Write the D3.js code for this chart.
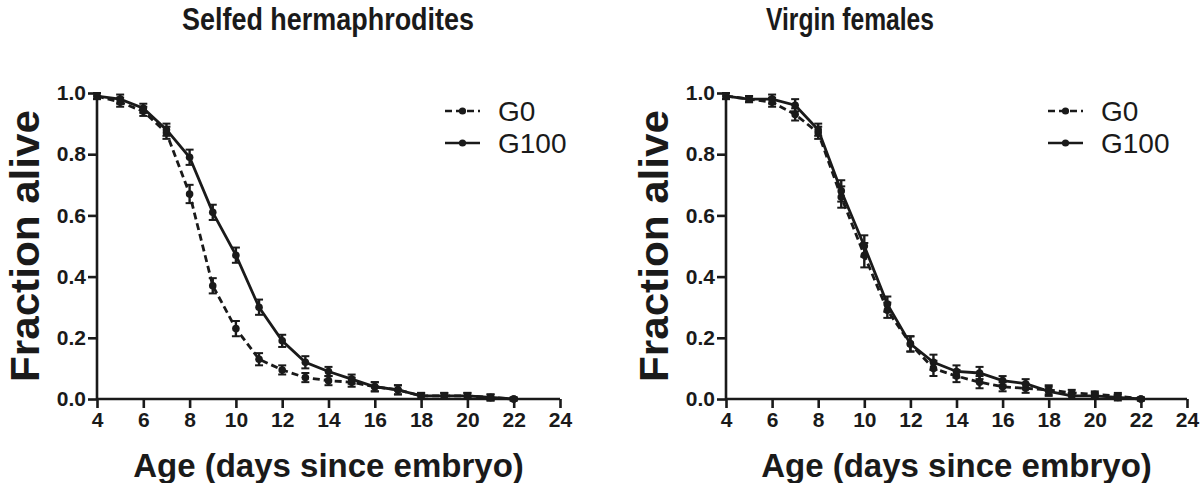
<!DOCTYPE html>
<html><head><meta charset="utf-8">
<script src="https://cdn.jsdelivr.net/npm/d3@7/dist/d3.min.js"></script>
<style>body{margin:0;background:#fff}svg{display:block}text{font-family:"Liberation Sans",Arial,sans-serif;fill:#1a1a1a}</style>
</head><body><svg id="c" width="1200" height="483"></svg>
<script>
const days = [4,5,6,7,8,9,10,11,12,13,14,15,16,17,18,19,20,21,22];
const xTicks = [4,6,8,10,12,14,16,18,20,22,24];
const yTicks = [0,0.2,0.4,0.6,0.8,1.0];
const seriesNames = ["G0","G100"];
const panelTitles = ["Selfed hermaphrodites","Virgin females"];
const herm_G0   = [0.99,0.97,0.94,0.87,0.67,0.37,0.23,0.13,0.095,0.07,0.06,0.055,0.04,0.03,0.01,0.01,0.01,0.005,0];
const herm_G100 = [0.99,0.98,0.95,0.88,0.79,0.61,0.47,0.30,0.19,0.12,0.09,0.065,0.04,0.03,0.01,0.01,0.01,0.005,0];
const herm_G0_err   = [0.005,0.01,0.01,0.015,0.025,0.02,0.02,0.015,0.01,0.01,0.01,0.01,0.01,0.01,0.005,0.005,0.005,0.005,0];
const herm_G100_err = [0.005,0.01,0.01,0.015,0.02,0.02,0.02,0.02,0.015,0.015,0.01,0.01,0.01,0.01,0.005,0.005,0.005,0.005,0];
const virg_G0   = [0.99,0.98,0.97,0.93,0.87,0.66,0.47,0.29,0.18,0.10,0.075,0.055,0.04,0.035,0.03,0.02,0.015,0.01,0];
const virg_G100 = [0.99,0.98,0.98,0.96,0.88,0.68,0.50,0.31,0.18,0.12,0.09,0.085,0.06,0.05,0.025,0.01,0.01,0.005,0];
const virg_G0_err   = [0.005,0.005,0.01,0.015,0.015,0.03,0.035,0.02,0.02,0.02,0.015,0.015,0.01,0.01,0.01,0.005,0.005,0.005,0];
const virg_G100_err = [0.005,0.005,0.01,0.015,0.015,0.03,0.03,0.02,0.02,0.02,0.015,0.015,0.01,0.01,0.01,0.005,0.005,0.005,0];

const svg = d3.select("#c");
const panels = [
  {x0:97, x1:560, title:panelTitles[0], titleX:328, titleW:292, legX:445, data:[herm_G0,herm_G100], err:[herm_G0_err,herm_G100_err]},
  {x0:726, x1:1187, title:panelTitles[1], titleX:850, titleW:168, legX:1048, data:[virg_G0,virg_G100], err:[virg_G0_err,virg_G100_err]}
];
const yTop = 93, yBot = 399;
const dashes = ["7,4", null];

panels.forEach(p => {
  const g = svg.append("g");
  const x = d3.scaleLinear().domain([4,24]).range([p.x0,p.x1]);
  const y = d3.scaleLinear().domain([0,1]).range([yBot,yTop]);

  const xa = g.append("g").attr("transform",`translate(0,${yBot})`)
    .call(d3.axisBottom(x).tickValues(xTicks).tickSize(9).tickPadding(4).tickFormat(d3.format("d")));
  const ya = g.append("g").attr("transform",`translate(${p.x0},0)`)
    .call(d3.axisLeft(y).tickValues(yTicks).tickSize(9).tickPadding(2).tickFormat(d3.format(".1f")));
  [xa,ya].forEach(a=>{
    a.select(".domain").attr("stroke","#1a1a1a").attr("stroke-width",2.6).attr("d", a===xa ? `M${p.x0},0H${p.x1}` : `M0,${yBot}V${yTop}`);
    a.selectAll(".tick line").attr("stroke","#1a1a1a").attr("stroke-width",2.6);
    a.selectAll(".tick text").attr("font-size",21).attr("font-weight","bold").attr("fill","#1a1a1a").style("font-family","'Liberation Sans',Arial,sans-serif");
  });

  const line = d3.line().x((d,i)=>x(days[i])).y(d=>y(d));
  p.data.forEach((vals,si)=>{
    g.append("path").datum(vals).attr("d",line).attr("fill","none")
      .attr("stroke","#1a1a1a").attr("stroke-width",2.8)
      .attr("stroke-dasharray",dashes[si]);
    const pts = g.append("g").selectAll("g").data(vals).join("g");
    pts.append("line").attr("x1",(d,i)=>x(days[i])).attr("x2",(d,i)=>x(days[i]))
      .attr("y1",(d,i)=>y(d+p.err[si][i])-1.5).attr("y2",(d,i)=>y(d-p.err[si][i])+1.5)
      .attr("stroke","#1a1a1a").attr("stroke-width",2.4);
    [1,-1].forEach(s=>{
      pts.append("line").attr("x1",(d,i)=>x(days[i])-4).attr("x2",(d,i)=>x(days[i])+4)
        .attr("y1",(d,i)=>y(d+s*p.err[si][i])-1.5*s).attr("y2",(d,i)=>y(d+s*p.err[si][i])-1.5*s)
        .attr("stroke","#1a1a1a").attr("stroke-width",2);
    });
    pts.append("circle").attr("cx",(d,i)=>x(days[i])).attr("cy",d=>y(d)).attr("r",3.8).attr("fill","#1a1a1a");
  });

  // title
  g.append("text").attr("x",p.titleX).attr("y",30).attr("text-anchor","middle")
    .attr("font-size",32).attr("font-weight","bold")
    .attr("textLength",p.titleW).attr("lengthAdjust","spacingAndGlyphs").text(p.title);
  // axis labels
  g.append("text").attr("x",(p.x0+p.x1)/2).attr("y",477).attr("text-anchor","middle")
    .attr("font-size",33).attr("font-weight","bold").text("Age (days since embryo)");
  g.append("text").attr("transform",`translate(${p.x0-58},${(yTop+yBot)/2}) rotate(-90)`)
    .attr("text-anchor","middle").attr("font-size",40).attr("font-weight","bold")
    .attr("textLength",272).attr("lengthAdjust","spacingAndGlyphs").text("Fraction alive");

  // legend
  seriesNames.forEach((nm,si)=>{
    const ly = 111 + si*32;
    g.append("line").attr("x1",p.legX).attr("x2",p.legX+35).attr("y1",ly).attr("y2",ly)
      .attr("stroke","#1a1a1a").attr("stroke-width",2.6).attr("stroke-dasharray",dashes[si]);
    g.append("circle").attr("cx",p.legX+17.5).attr("cy",ly).attr("r",3.6).attr("fill","#1a1a1a");
    g.append("text").attr("x",p.legX+53).attr("y",ly+10).attr("font-size",28).text(nm);
  });
});
</script></body></html>
